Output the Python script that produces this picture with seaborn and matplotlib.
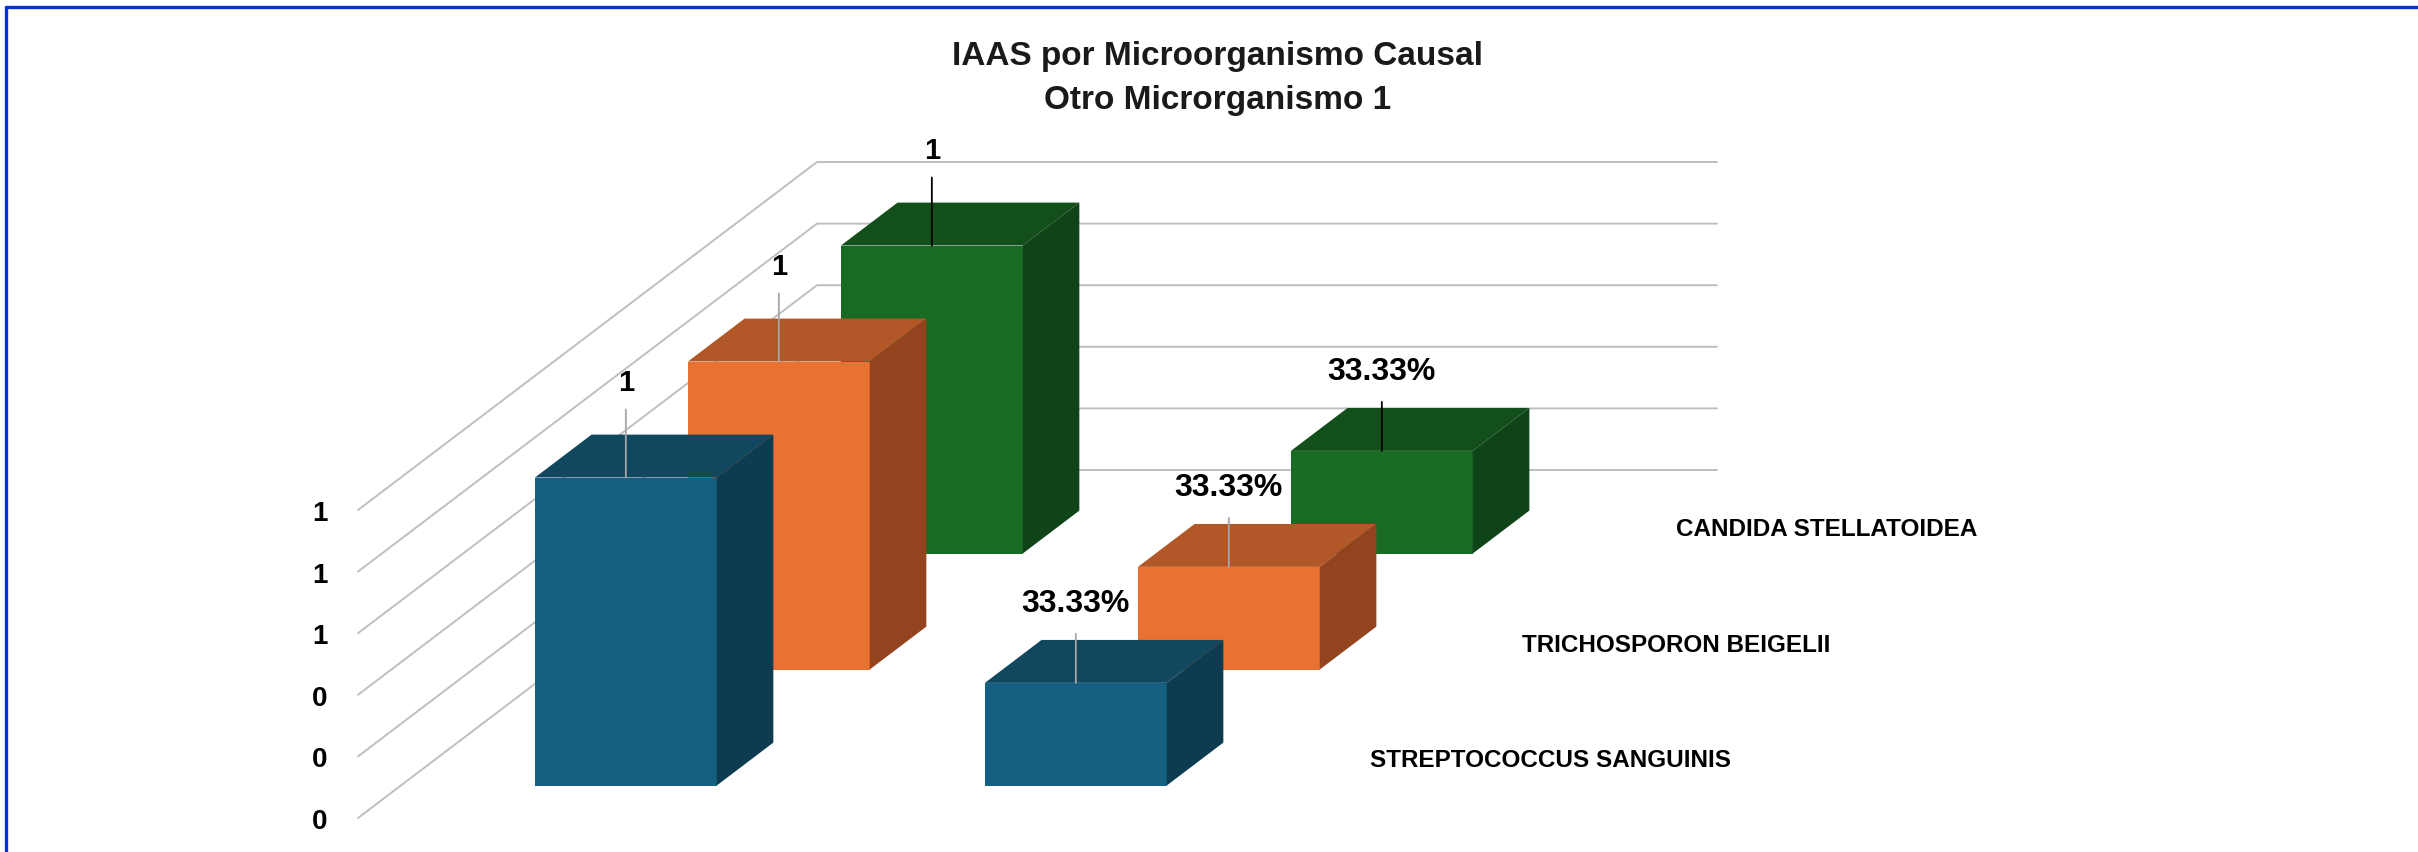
import pandas as pd
import matplotlib
matplotlib.use('Agg')
import matplotlib.pyplot as plt
import seaborn as sns
from matplotlib.patches import Polygon
from matplotlib.lines import Line2D

# Data
organisms = ['STREPTOCOCCUS SANGUINIS', 'TRICHOSPORON BEIGELII', 'CANDIDA STELLATOIDEA']
measures = ['Casos', 'Porcentaje']
counts = [1, 1, 1]
shares = [0.3333, 0.3333, 0.3333]
y_ticks = [0, 0.2, 0.4, 0.6, 0.8, 1.0]

front_colors = ['#156082', '#E97132', '#196B24']
top_colors = ['#11475F', '#B25727', '#134F1B']
side_colors = ['#0D3C50', '#93441E', '#0F4318']
leader_colors = ['#A6A6A6', '#A6A6A6', '#000000']

df = pd.DataFrame({
    'organismo': organisms * 2,
    'medida': [measures[0]] * 3 + [measures[1]] * 3,
    'valor': counts + shares,
})

sns.set_theme(style='white')
plt.rcParams['font.family'] = ['Liberation Sans', 'DejaVu Sans']

W, H = 2418, 853
fig = plt.figure(figsize=(W / 100, H / 100), dpi=100)
# axes = front plane of the 3D box
ax = fig.add_axes([358 / W, 34 / H, 900 / W, 308 / H])

# depth step per series slot, in data units (oblique projection)
ddx = 1.53 / (900 / 100 / 2)
ddy = 1.16 / (308 / 100 / 1)
z_front, z_back = 0.28, 0.65

ax.set_xlim(-0.5, 1.5)
ax.set_ylim(0, 1)

# walls: left diagonals + back gridlines
for v in y_ticks:
    ax.plot([-0.5, -0.5 + 3 * ddx, 1.5 + 3 * ddx], [v, v + 3 * ddy, v + 3 * ddy],
            color='#BFBFBF', lw=1.4, clip_on=False, zorder=1)

# bars, back to front
for k in [2, 1, 0]:
    sub = df[df['organismo'] == organisms[k]]
    n0 = len(ax.patches)
    sns.barplot(data=sub, x='medida', y='valor', order=measures, color=front_colors[k],
                saturation=1, width=0.404, linewidth=0, errorbar=None, ax=ax)
    zf = k + z_front
    zb = k + z_back
    for p, val in zip(ax.patches[n0:], sub['valor']):
        p.set_x(p.get_x() + zf * ddx)
        p.set_y(p.get_y() + zf * ddy)
        p.set_clip_on(False)
        p.set_zorder(3 + (2 - k))
        x0 = p.get_x() - zf * ddx
        x1 = x0 + p.get_width()
        h = p.get_height()
        sx, sy = (zb - zf) * ddx, (zb - zf) * ddy
        fx, fy = zf * ddx, zf * ddy
        top = [(x0 + fx, h + fy), (x1 + fx, h + fy), (x1 + fx + sx, h + fy + sy), (x0 + fx + sx, h + fy + sy)]
        side = [(x1 + fx, fy), (x1 + fx, h + fy), (x1 + fx + sx, h + fy + sy), (x1 + fx + sx, fy + sy)]
        ax.add_patch(Polygon(top, closed=True, facecolor=top_colors[k], edgecolor='none',
                             clip_on=False, zorder=3 + (2 - k)))
        ax.add_patch(Polygon(side, closed=True, facecolor=side_colors[k], edgecolor='none',
                             clip_on=False, zorder=3 + (2 - k)))
        # data label with leader line
        cx = (x0 + x1) / 2 + fx
        is_pct = val < 0.99
        txt = f'{val:.2%}' if is_pct else f'{val:.0f}'
        lab_off = 80 if is_pct else 96
        line_len = 49 if is_pct else 68
        ax.annotate('', xy=(cx, h + fy), xytext=(0, line_len), textcoords='offset pixels',
                    arrowprops=dict(arrowstyle='-', color=leader_colors[k], lw=1.3,
                                    shrinkA=0, shrinkB=0),
                    annotation_clip=False, zorder=10)
        ax.annotate(txt, xy=(cx, h + fy), xytext=(0, lab_off), textcoords='offset pixels',
                    ha='center', va='center', fontsize=23 if is_pct else 21,
                    fontweight='bold', color='black', annotation_clip=False, zorder=10)

    # depth axis label
    ax.annotate(organisms[k], xy=(1.5 + (k + 0.5) * ddx, (k + 0.5) * ddy), xytext=(35, 0),
                textcoords='offset pixels', ha='left', va='center', fontsize=17.5,
                fontweight='bold', color='black', annotation_clip=False)

ax.set_xlim(-0.5, 1.5)
ax.set_ylim(0, 1)
ax.set_yticks(y_ticks)
ax.set_yticklabels([f'{v:.0f}' for v in y_ticks], fontsize=20, fontweight='bold', color='black')
ax.tick_params(axis='y', length=0, pad=22)
ax.tick_params(axis='x', bottom=False, labelbottom=False)
ax.set_xlabel('')
ax.set_ylabel('')
ax.grid(False)
ax.patch.set_alpha(0)
sns.despine(ax=ax, left=True, bottom=True)

fig.text(1218 / W, 1 - 57 / H, 'IAAS por Microorganismo Causal', ha='center', va='center',
         fontsize=24, fontweight='bold', color='#1A1A1A')
fig.text(1218 / W, 1 - 100 / H, 'Otro Microrganismo 1', ha='center', va='center',
         fontsize=24, fontweight='bold', color='#1A1A1A')

# frame (only top and left edges are visible)
fig.add_artist(Line2D([6 / W, 1], [1 - 8 / H, 1 - 8 / H], transform=fig.transFigure,
                      color='#0033CC', lw=2.4))
fig.add_artist(Line2D([6 / W, 6 / W], [0, 1 - 8 / H], transform=fig.transFigure,
                      color='#0033CC', lw=2.4))

fig.savefig('out.png', dpi=100)
